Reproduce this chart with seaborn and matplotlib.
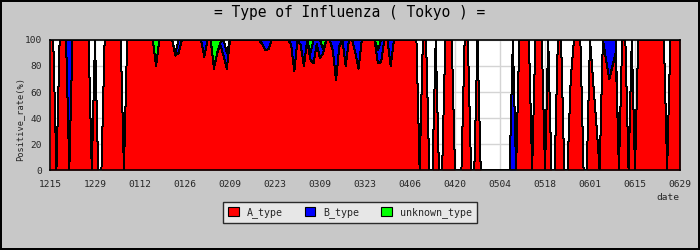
import numpy as np
import pandas as pd
import matplotlib
matplotlib.use("Agg")
import matplotlib.pyplot as plt
from matplotlib.patches import Patch
import seaborn as sns

# ---------------- data (daily, 2008-12-15 .. 2009-06-29) ----------------
start_date = "2008-12-15"
tick_labels = ["1215", "1229", "0112", "0126", "0209", "0223", "0309", "0323",
               "0406", "0420", "0504", "0518", "0601", "0615", "0629"]
series_names = ["A_type", "B_type", "unknown_type"]
series_colors = ["#ff0000", "#0000ff", "#00ff00"]

# one row per week (Mon..Sun)
A_type = [
    100, 100, 0, 100, 100, 100, 0,
    100, 100, 100, 100, 100, 100, 0,
    100, 0, 0, 100, 100, 100, 100,
    100, 100, 0, 100, 100, 100, 100,
    100, 100, 100, 100, 100, 80, 100,
    100, 100, 100, 100, 88, 90, 100,
    100, 100, 100, 100, 100, 100, 87,
    100, 100, 78, 90, 96, 88, 78,
    100, 100, 100, 100, 100, 100, 100,
    100, 100, 100, 97, 92, 93, 100,
    100, 100, 100, 100, 100, 97, 76,
    100, 96, 80, 100, 85, 82, 97,
    86, 90, 100, 100, 92, 69, 95,
    100, 80, 100, 100, 90, 78, 100,
    100, 100, 100, 100, 82, 83, 100,
    100, 80, 100, 100, 100, 100, 100,
    100, 100, 100, 0, 100, 100, 0,
    0, 100, 0, 0, 100, 100, 100,
    0, 0, 0, 100, 100, 0, 0,
    100, 0, 0, 0, 0, 0, 0,
    0, 0, 0, 0, 0, 0, 100,
    100, 100, 100, 0, 100, 100, 100,
    0, 100, 0, 0, 100, 100, 0,
    0, 70, 100, 100, 100, 0, 0,
    100, 68, 35, 0, 100, 85, 70,
    80, 90, 0, 100, 100, 0, 100,
    0, 100, 100, 100, 100, 100, 100,
    100, 100, 100, 0, 100, 100, 100,
    100,
]
B_type = [
    0, 0, 0, 0, 0, 0, 100,
    0, 0, 0, 0, 0, 0, 0,
    0, 0, 0, 0, 0, 0, 0,
    0, 0, 0, 0, 0, 0, 0,
    0, 0, 0, 0, 0, 0, 0,
    0, 0, 0, 0, 2, 10, 0,
    0, 0, 0, 0, 0, 0, 13,
    0, 0, 0, 0, 2, 12, 12,
    0, 0, 0, 0, 0, 0, 0,
    0, 0, 0, 3, 8, 7, 0,
    0, 0, 0, 0, 0, 3, 24,
    0, 4, 20, 0, 5, 18, 3,
    14, 3, 0, 0, 8, 31, 5,
    0, 20, 0, 0, 10, 22, 0,
    0, 0, 0, 0, 10, 17, 0,
    0, 20, 0, 0, 0, 0, 0,
    0, 0, 0, 0, 0, 0, 0,
    0, 0, 0, 0, 0, 0, 0,
    0, 0, 0, 0, 0, 0, 0,
    0, 0, 0, 0, 0, 0, 0,
    0, 0, 0, 0, 100, 0, 0,
    0, 0, 0, 0, 0, 0, 0,
    0, 0, 0, 0, 0, 0, 0,
    0, 0, 0, 0, 0, 0, 0,
    0, 0, 0, 0, 0, 15, 30,
    20, 10, 0, 0, 0, 0, 0,
    0, 0, 0, 0, 0, 0, 0,
    0, 0, 0, 0, 0, 0, 0,
    0,
]
unknown_type = [
    0, 0, 0, 0, 0, 0, 0,
    0, 0, 0, 0, 0, 0, 0,
    0, 0, 0, 0, 0, 0, 0,
    0, 0, 0, 0, 0, 0, 0,
    0, 0, 0, 0, 0, 20, 0,
    0, 0, 0, 0, 0, 0, 0,
    0, 0, 0, 0, 0, 0, 0,
    0, 0, 22, 10, 2, 0, 0,
    0, 0, 0, 0, 0, 0, 0,
    0, 0, 0, 0, 0, 0, 0,
    0, 0, 0, 0, 0, 0, 0,
    0, 0, 0, 0, 10, 0, 0,
    0, 7, 0, 0, 0, 0, 0,
    0, 0, 0, 0, 0, 0, 0,
    0, 0, 0, 0, 8, 0, 0,
    0, 0, 0, 0, 0, 0, 0,
    0, 0, 0, 0, 0, 0, 0,
    0, 0, 0, 0, 0, 0, 0,
    0, 0, 0, 0, 0, 0, 0,
    0, 0, 0, 0, 0, 0, 0,
    0, 0, 0, 0, 0, 0, 0,
    0, 0, 0, 0, 0, 0, 0,
    0, 0, 0, 0, 0, 0, 0,
    0, 0, 0, 0, 0, 0, 0,
    0, 0, 0, 0, 0, 0, 0,
    0, 0, 0, 0, 0, 0, 0,
    0, 0, 0, 0, 0, 0, 0,
    0, 0, 0, 0, 0, 0, 0,
    0,
]

# ---------------- build table ----------------
dates = pd.date_range(start_date, periods=len(A_type), freq="D")
df = pd.DataFrame({"date": dates, "A_type": A_type, "B_type": B_type,
                   "unknown_type": unknown_type})
df["day"] = (df["date"] - df["date"].iloc[0]).dt.days
df["c1"] = df["A_type"]
df["c2"] = df["c1"] + df["B_type"]
df["c3"] = df["c2"] + df["unknown_type"]
long_df = df.melt(id_vars="day", value_vars=["c1", "c2", "c3"],
                  var_name="level", value_name="cum")

tick_days = [(pd.Timestamp("%d-%s-%s" % (2008 if t[:2] == "12" else 2009, t[:2], t[2:]))
              - dates[0]).days for t in tick_labels]

# ---------------- styling ----------------
sns.set_style("white")
plt.rcParams["font.family"] = ["DejaVu Sans Mono"]

BG = "#c8c8c8"
fig = plt.figure(figsize=(7.0, 2.5), dpi=100, facecolor=BG)
fig.patch.set_edgecolor("black")
fig.patch.set_linewidth(1.5)
ax = fig.add_axes([50 / 700, 80 / 250, 630 / 700, 130 / 250])
ax.set_facecolor("white")

x = df["day"].to_numpy()
ax.fill_between(x, 0, df["c1"], color=series_colors[0], lw=0, antialiased=False, zorder=2)
ax.fill_between(x, df["c1"], df["c2"], color=series_colors[1], lw=0, antialiased=False, zorder=2)
ax.fill_between(x, df["c2"], df["c3"], color=series_colors[2], lw=0, antialiased=False, zorder=2)

sns.lineplot(data=long_df, x="day", y="cum", units="level", estimator=None,
             color="black", lw=0.72, ax=ax, zorder=3, legend=False, antialiased=False)

ax.set_xlim(0, tick_days[-1])
ax.set_ylim(0, 100)
ax.set_xticks(tick_days)
ax.set_xticklabels(tick_labels)
ax.set_yticks(range(0, 101, 20))
ax.set_yticks(range(0, 101, 10), minor=True)
ax.grid(True, which="major", color="#d4d4d4", lw=1.0, zorder=0)
ax.set_axisbelow(True)
ax.tick_params(axis="x", which="major", direction="in", length=5, width=1,
               color="black", labelsize=6.8, pad=7.5)
ax.tick_params(axis="y", which="both", direction="in", length=3, width=1,
               color="black", labelsize=6.8, pad=6)
ax.set_xlabel("")
ax.set_ylabel("")
for s in ax.spines.values():
    s.set_visible(True)
    s.set_color("black")
    s.set_linewidth(1.2)
    s.set_zorder(5)

fig.text(0.5, 1 - 13 / 250, "= Type of Influenza ( Tokyo ) =", ha="center", va="center",
         fontsize=10.5, color="black")
fig.text(20 / 700, 1 - 119 / 250, "Positive_rate(%)", rotation=90, ha="center",
         va="center", fontsize=6.2)
fig.text(668 / 700, 1 - 197 / 250, "date", ha="center", va="center", fontsize=6.8)

handles = [Patch(facecolor=c, edgecolor="black", lw=0.8, label=n)
           for c, n in zip(series_colors, series_names)]
leg = fig.legend(handles=handles, loc="center", bbox_to_anchor=(350 / 700, 1 - 212.5 / 250),
                 ncol=3, frameon=True, fancybox=False, shadow=False, fontsize=7.2,
                 handlelength=1.05, handleheight=1.05, handletextpad=0.8,
                 columnspacing=2.2, borderpad=0.5)
leg.get_frame().set_facecolor("#efefef")
leg.get_frame().set_edgecolor("black")
leg.get_frame().set_linewidth(1.0)

fig.savefig("out.png", dpi=100, facecolor=BG, edgecolor="black")
